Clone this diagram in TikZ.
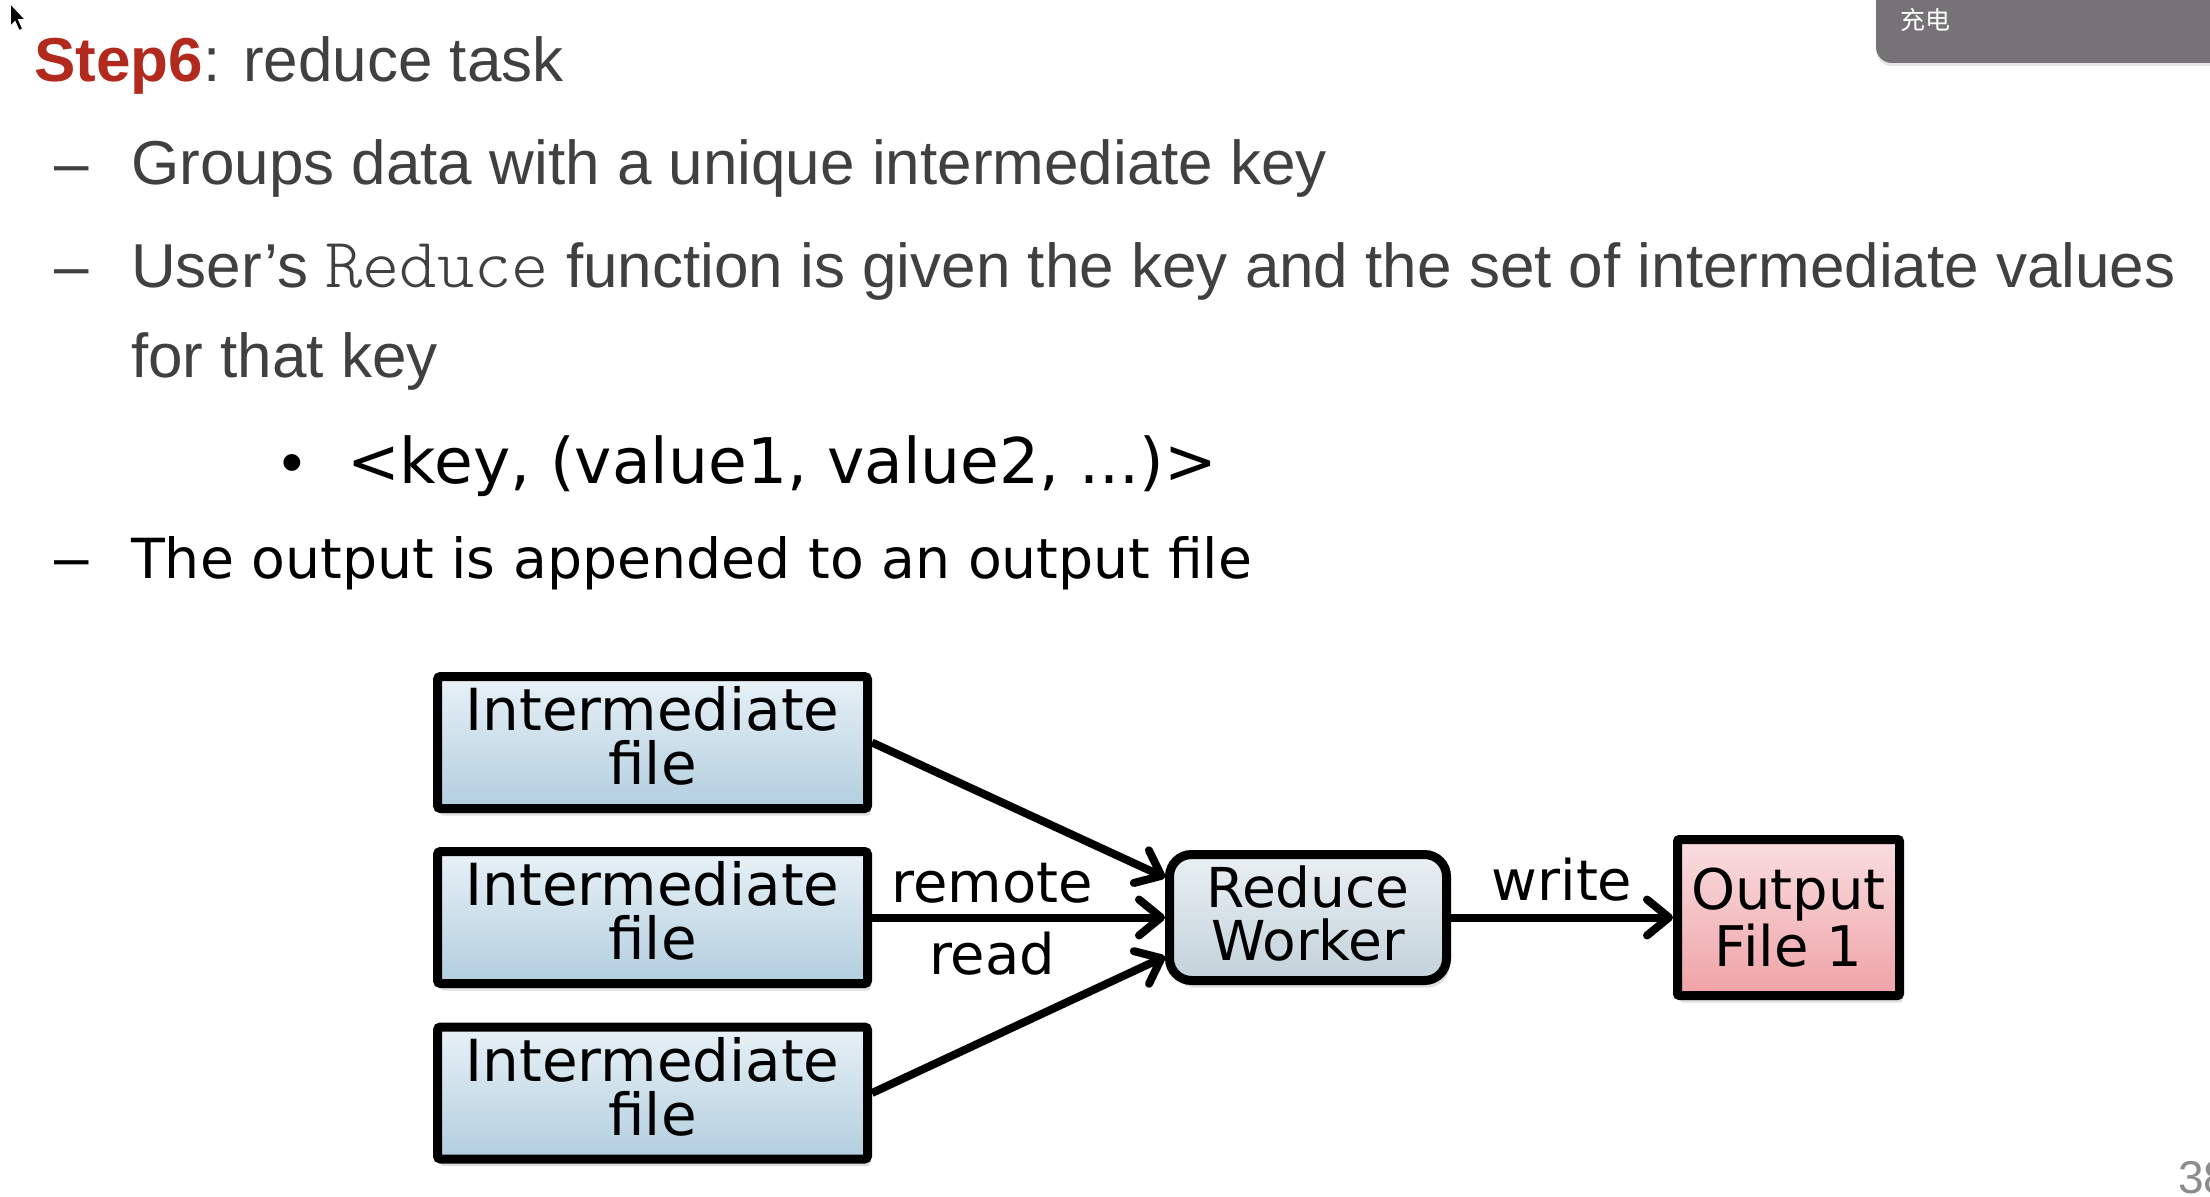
\documentclass[tikz,border=0pt]{standalone}
\usepackage{fontspec}
\setmainfont{Liberation Sans}
\newfontfamily\boxfont{DejaVu Sans}
\newfontfamily\codefont{Latin Modern Mono Light}
\newfontfamily\cjkfont{Noto Sans CJK SC}
\usetikzlibrary{arrows.meta,shadows}
\definecolor{slidegray}{RGB}{64,64,64}
\definecolor{stepred}{RGB}{178,42,30}
\definecolor{tabgray}{RGB}{118,115,118}
\definecolor{pagegray}{RGB}{140,140,140}
\definecolor{filetop}{RGB}{232,241,247}
\definecolor{filebot}{RGB}{178,206,222}
\definecolor{worktop}{RGB}{234,240,244}
\definecolor{workbot}{RGB}{194,209,218}
\definecolor{outtop}{RGB}{249,222,225}
\definecolor{outbot}{RGB}{239,162,166}
\newcommand{\fsz}[2]{\fontsize{#1}{#2}\selectfont}

\tikzset{
  txt/.style={anchor=base west, inner sep=0pt},
  boxbase/.style={draw=black, line width=9pt, inner sep=0pt, align=center,
    drop shadow={shadow xshift=3pt,shadow yshift=-7pt,opacity=0.25}},
  ifile/.style={boxbase, rounded corners=3pt, minimum width=430pt, minimum height=132pt,
    top color=filetop, bottom color=filebot, font=\boxfont\fsz{58}{54},
    execute at end node={\rule[-14pt]{0pt}{14pt}}},
  worker/.style={boxbase, rounded corners=22pt, minimum width=277pt, minimum height=126pt,
    top color=worktop, bottom color=workbot, font=\boxfont\fsz{55}{53},
    execute at end node={\rule[-9pt]{0pt}{9pt}}},
  ofile/.style={boxbase, rounded corners=2pt, minimum width=222pt, minimum height=156pt,
    top color=outtop, bottom color=outbot, font=\boxfont\fsz{56}{57}},
  conn/.style={line width=8pt, -{Straight Barb[length=22pt,width=36pt,round]}},
  lbl/.style={font=\boxfont\fsz{56}{60}, inner sep=3pt}
}

\begin{document}
\begin{tikzpicture}[x=1pt,y=-1pt]
\useasboundingbox (0,0) rectangle (2210,1196);
\clip (0,0) rectangle (2210,1196);
\fill[white] (0,0) rectangle (2210,1196);
% screen overlay
\fill[tabgray, rounded corners=16pt, drop shadow={shadow xshift=0pt,shadow yshift=-3pt,opacity=0.2}]
  (1876,-30) rectangle (2250,63);
\node[text=white, font=\cjkfont\fsz{25}{30}] (tab) at (1925,20) {充电};
\filldraw[fill=black, draw=white, line width=1.5pt]
  (10,3) -- ++(0,24) -- ++(5,-5) -- ++(4,9) -- ++(4,-2) -- ++(-4,-9) -- ++(7,0) -- cycle;
\node[txt, text=pagegray, font=\fsz{46}{50}] (page) at (2178,1193) {38};

% slide text
\node[txt, font=\fsz{62}{70}] (title) at (34,82)
  {\textcolor{stepred}{\bfseries Step6}\textcolor{slidegray}{: reduce task}};
\node[txt, text=slidegray, font=\fsz{62}{70}] (d1) at (54,184) {–};
\node[txt, text=slidegray, font=\fsz{62}{70}] (l1) at (131,184) {Groups data with a unique intermediate key};
\node[txt, text=slidegray, font=\fsz{62}{70}] (d2) at (54,287) {–};
\node[txt, text=slidegray, font=\fsz{62}{70}] (l2) at (131,287)
  {User’s {\codefont\fsz{71}{72}Reduce} function is given the key and the set of intermediate values};
\node[txt, text=slidegray, font=\fsz{62}{70}] (l3) at (131,377) {for that key};
\node[txt, font=\fsz{62}{70}] (b1) at (281,483) {•};
\node[txt, font=\boxfont\fsz{63}{70}] (l4) at (347,483) {<key, (value1, value2, ...)>};
\node[txt, font=\fsz{62}{70}] (d3) at (54,578) {–};
\node[txt, font=\boxfont\fsz{55.3}{66}] (l5) at (131,578) {The output is appended to an output file};

% diagram
\node[ifile] (f1) at (652.5,742.5) {Intermediate\\file};
\node[ifile] (f2) at (652.5,917.5) {Intermediate\\file};
\node[ifile] (f3) at (652.5,1093) {Intermediate\\file};
\node[worker] (rw) at (1308,917.5) {Reduce\\Worker};
\node[ofile] (of) at (1788.5,917.5) {Output\\File 1};
\path[conn]
  (f1.east) edge ([yshift=40pt]rw.west)
  (f2.east) edge node[lbl, pos=0.41, above=7pt] {remote} node[lbl, pos=0.41, below=7pt] {read} (rw.west)
  (f3.east) edge ([yshift=-39pt]rw.west)
  (rw.east) edge node[lbl, above=9pt] {write} (of.west);
\end{tikzpicture}
\end{document}
